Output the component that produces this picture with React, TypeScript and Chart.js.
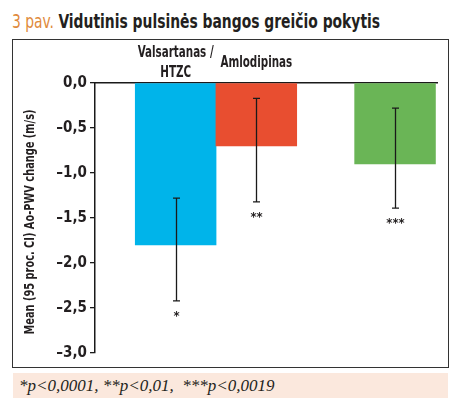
import { useEffect, useLayoutEffect, useRef } from "react";
import Chart from "chart.js/auto";

// categories (lines of the label above each bar)
const categories = [["Valsartanas /", "HTZC"], ["Amlodipinas"], []];
// slot of each bar on the x axis (blue and red touch, green stands apart)
const slots = [1, 2, 3.72];
const means = [-1.8, -0.7, -0.9];
const ciUpper = [-1.28, -0.17, -0.28];
const ciLower = [-2.42, -1.32, -1.39];
const marks = ["*", "**", "***"];
const yTicks = [0, -0.5, -1, -1.5, -2, -2.5, -3];
const yTitle = "Mean (95 proc. CI) Ao-PWV change (m/s)";

const barColors = ["#00b4ea", "#e84e30", "#6ab556"];
const NARROW = "'Liberation Sans Narrow', 'DejaVu Sans Condensed', sans-serif";
const INK = "#231f20";

const fmt = (v: number) => {
  const s = Math.abs(v).toFixed(1).replace(".", ",");
  return v < 0 ? "\u2013" + s : s;
};

const overlay = {
  id: "overlay",
  afterDatasetsDraw(chart: any) {
    const { ctx, scales, chartArea } = chart;
    const x = scales.x;
    const y = scales.y;
    ctx.save();
    ctx.strokeStyle = "#1a1a1a";
    ctx.lineWidth = 1.3;
    ctx.fillStyle = INK;
    slots.forEach((s, i) => {
      const px = Math.round(x.getPixelForValue(s)) + 0.5;
      const top = y.getPixelForValue(ciUpper[i]);
      const bot = y.getPixelForValue(ciLower[i]);
      ctx.beginPath();
      ctx.moveTo(px, top);
      ctx.lineTo(px, bot);
      ctx.moveTo(px - 3.5, top);
      ctx.lineTo(px + 3.5, top);
      ctx.moveTo(px - 3.5, bot);
      ctx.lineTo(px + 3.5, bot);
      ctx.stroke();
      ctx.font = "bold 13px " + NARROW;
      ctx.textAlign = "center";
      ctx.textBaseline = "top";
      ctx.fillText(marks[i], px, bot + 9);
    });

    // category names above the bars, squeezed like a condensed face
    ctx.font = "bold 15px " + NARROW;
    ctx.textBaseline = "alphabetic";
    ctx.textAlign = "center";
    const squeeze = Math.min(1, 76 / ctx.measureText("Valsartanas /").width);
    const mid = chartArea.top - 16;
    categories.forEach((lines, i) => {
      const px = x.getPixelForValue(slots[i]);
      lines.forEach((t, j) => {
        const w = ctx.measureText(t).width * squeeze;
        ctx.fillText(t, px, mid + (j - (lines.length - 1) / 2) * 20, w);
      });
    });

    // y axis title, rotated
    ctx.save();
    ctx.translate(17, (chartArea.top + chartArea.bottom) / 2 + 4);
    ctx.rotate(-Math.PI / 2);
    ctx.font = "bold 14px " + NARROW;
    ctx.textBaseline = "middle";
    ctx.textAlign = "center";
    ctx.fillText(yTitle, 0, 0, 225);
    ctx.restore();
    ctx.restore();
  },
};

export default function App() {
  const ref = useRef<HTMLCanvasElement | null>(null);
  const titleRef = useRef<HTMLDivElement | null>(null);

  useLayoutEffect(() => {
    const el = titleRef.current;
    if (!el) return;
    const w = el.scrollWidth;
    if (w > 0) el.style.transform = `scaleX(${368 / w})`;
  }, []);

  useEffect(() => {
    if (!ref.current) return;
    const chart = new Chart(ref.current, {
      type: "bar",
      data: {
        datasets: [
          {
            data: means.map((v, i) => ({ x: slots[i], y: v })),
            backgroundColor: barColors,
            borderWidth: 0,
            barThickness: 80.8,
          },
        ],
      },
      options: {
        responsive: false,
        animation: false,
        devicePixelRatio: 1,
        layout: { padding: { top: 43, right: 12, bottom: 14, left: 0 } },
        plugins: {
          legend: { display: false },
          tooltip: { enabled: false },
        },
        scales: {
          x: {
            type: "linear",
            position: "top",
            min: 0,
            max: 4.24,
            offset: false,
            grid: { display: false },
            ticks: { display: false },
            border: { display: true, color: "#1a1a1a", width: 1.5 },
            afterFit: (s: any) => {
              s.height = 0;
            },
          },
          y: {
            min: -3,
            max: 0,
            afterBuildTicks: (s: any) => {
              s.ticks = yTicks.map((v) => ({ value: v }));
            },
            afterFit: (s: any) => {
              s.width = 82;
            },
            grid: {
              drawOnChartArea: false,
              drawTicks: true,
              tickLength: 5,
              color: "#1a1a1a",
              lineWidth: 1.3,
            },
            border: { display: true, color: "#1a1a1a", width: 1.5 },
            ticks: {
              padding: 3,
              color: INK,
              font: { family: NARROW, size: 15, weight: "bold" },
              callback: (v: any) => fmt(Number(v)),
            },
          },
        },
      },
      plugins: [overlay],
    });
    return () => chart.destroy();
  }, []);

  return (
    <div
      style={{
        position: "fixed",
        left: 0,
        top: 0,
        width: 456,
        height: 405,
        background: "#fff",
        overflow: "hidden",
      }}
    >
      <div
        ref={titleRef}
        style={{
          position: "absolute",
          left: 12,
          top: 9,
          whiteSpace: "nowrap",
          fontFamily: NARROW,
          fontSize: 20,
          lineHeight: "24px",
          transformOrigin: "left center",
        }}
      >
        <span style={{ color: "#e08a3c" }}>3 pav. </span>
        <span style={{ color: INK, fontWeight: "bold" }}>
          Vidutinis pulsinės bangos greičio pokytis
        </span>
      </div>
      <div
        style={{
          position: "absolute",
          left: 12,
          top: 39,
          width: 437,
          height: 329,
          boxSizing: "border-box",
          border: "1.5px solid #333",
        }}
      />
      <canvas
        ref={ref}
        width={436}
        height={327}
        style={{ position: "absolute", left: 13, top: 40, width: 436, height: 327 }}
      />
      <div
        style={{
          position: "absolute",
          left: 13,
          top: 373,
          width: 435,
          height: 25,
          background: "#fbe8dd",
          fontFamily: "'Liberation Serif', serif",
          fontStyle: "italic",
          fontSize: 17,
          lineHeight: "25px",
          color: INK,
          whiteSpace: "pre",
          paddingLeft: 6,
          boxSizing: "border-box",
        }}
      >
        {"*p<0,0001, **p<0,01,  ***p<0,0019"}
      </div>
    </div>
  );
}
